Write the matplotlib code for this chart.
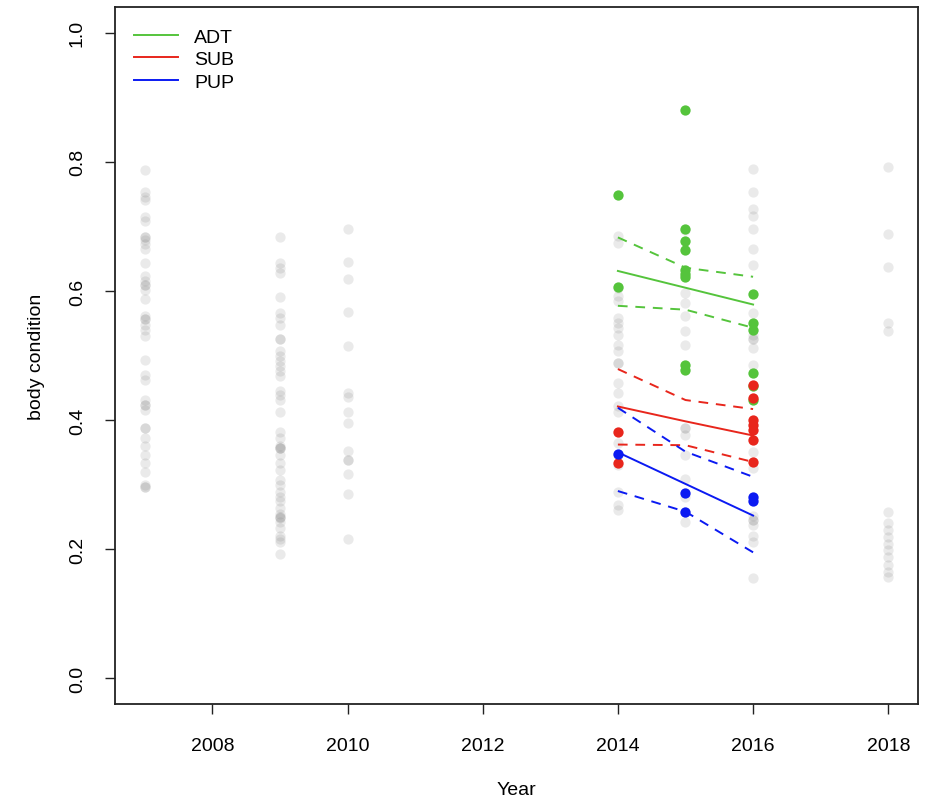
#!/usr/bin/env python3
"""Body condition by year with fitted trends per age class."""
import matplotlib

matplotlib.use("Agg")
import matplotlib.pyplot as plt
from matplotlib.lines import Line2D

plt.rcParams["font.family"] = ["Liberation Sans Narrow", "Liberation Sans", "DejaVu Sans"]

# background observations (all animals), one list per survey year
bg_2007 = [0.788, 0.753, 0.746, 0.741, 0.714, 0.708, 0.683, 0.683, 0.679, 0.672,
           0.665, 0.644, 0.623, 0.615, 0.610, 0.610, 0.602, 0.587, 0.561, 0.556,
           0.556, 0.548, 0.540, 0.530, 0.493, 0.470, 0.462, 0.431, 0.423, 0.423,
           0.416, 0.387, 0.387, 0.372, 0.359, 0.346, 0.333, 0.320, 0.299, 0.297,
           0.297]
bg_2009 = [0.683, 0.644, 0.636, 0.628, 0.591, 0.566, 0.558, 0.548, 0.525, 0.525,
           0.507, 0.499, 0.491, 0.483, 0.476, 0.468, 0.445, 0.439, 0.431, 0.413,
           0.382, 0.372, 0.359, 0.357, 0.356, 0.356, 0.346, 0.333, 0.323, 0.307,
           0.299, 0.289, 0.281, 0.274, 0.263, 0.255, 0.250, 0.250, 0.248, 0.242,
           0.232, 0.221, 0.216, 0.211, 0.193]
bg_2010 = [0.696, 0.645, 0.618, 0.567, 0.514, 0.442, 0.435, 0.413, 0.396, 0.352,
           0.338, 0.338, 0.316, 0.285, 0.215]
bg_2014 = [0.685, 0.675, 0.605, 0.592, 0.584, 0.558, 0.551, 0.543, 0.532, 0.517,
           0.507, 0.488, 0.488, 0.457, 0.442, 0.421, 0.413, 0.364, 0.346, 0.331,
           0.289, 0.268, 0.260]
bg_2015 = [0.694, 0.597, 0.582, 0.561, 0.538, 0.517, 0.387, 0.387, 0.377, 0.346,
           0.309, 0.281, 0.258, 0.242]
bg_2016 = [0.789, 0.753, 0.727, 0.716, 0.696, 0.665, 0.641, 0.566, 0.532, 0.525,
           0.525, 0.512, 0.486, 0.351, 0.325, 0.252, 0.245, 0.245, 0.237, 0.221,
           0.211, 0.155]
bg_2018 = [0.792, 0.688, 0.637, 0.551, 0.538, 0.258, 0.240, 0.229, 0.219, 0.208,
           0.198, 0.188, 0.175, 0.164, 0.157]

background = {
    2007: bg_2007,
    2009: bg_2009,
    2010: bg_2010,
    2014: bg_2014,
    2015: bg_2015,
    2016: bg_2016,
    2018: bg_2018,
}

# study animals by age class
adt_years = [2014, 2014, 2015, 2015, 2015, 2015, 2015, 2015, 2015, 2015, 2015,
             2016, 2016, 2016, 2016, 2016, 2016]
adt_values = [0.748, 0.606, 0.881, 0.696, 0.677, 0.664, 0.633, 0.626, 0.621,
              0.486, 0.478, 0.595, 0.551, 0.540, 0.473, 0.452, 0.431]
sub_years = [2014, 2014, 2016, 2016, 2016, 2016, 2016, 2016, 2016]
sub_values = [0.381, 0.333, 0.455, 0.434, 0.400, 0.392, 0.385, 0.369, 0.335]
pup_years = [2014, 2015, 2015, 2016, 2016]
pup_values = [0.347, 0.287, 0.257, 0.281, 0.274]

# model fit and confidence bounds
fit_years = [2014, 2015, 2016]
adt_fit = [0.631, 0.605, 0.579]
adt_lower = [0.577, 0.571, 0.543]
adt_upper = [0.683, 0.636, 0.622]
sub_fit = [0.421, 0.398, 0.376]
sub_lower = [0.362, 0.361, 0.335]
sub_upper = [0.479, 0.431, 0.417]
pup_fit = [0.350, 0.301, 0.252]
pup_lower = [0.290, 0.258, 0.195]
pup_upper = [0.419, 0.351, 0.312]

GREEN = "#55C43C"
RED = "#E8261C"
BLUE = "#0B1AF2"

groups = [
    ("ADT", GREEN, adt_years, adt_values, adt_fit, adt_lower, adt_upper),
    ("SUB", RED, sub_years, sub_values, sub_fit, sub_lower, sub_upper),
    ("PUP", BLUE, pup_years, pup_values, pup_fit, pup_lower, pup_upper),
]

fig = plt.figure(figsize=(9.28, 8.04), dpi=100)
ax = fig.add_axes([115 / 928, 1 - 705 / 804, (918 - 115) / 928, (705 - 8) / 804])

for year, vals in background.items():
    ax.scatter([year] * len(vals), vals, s=55, color=(0.5, 0.5, 0.5),
               alpha=0.16, linewidths=0, zorder=1)

for name, color, yrs, vals, fit, lo, hi in groups:
    ax.plot(fit_years, fit, color=color, lw=1.4, zorder=2)
    for bound in (lo, hi):
        ax.plot(fit_years, bound, color=color, lw=1.4, dashes=(5, 4), zorder=2)

for name, color, yrs, vals, fit, lo, hi in groups:
    ax.scatter(yrs, vals, s=55, color=color, linewidths=0, zorder=3)

ax.set_xlim(2006.56, 2018.44)
ax.set_ylim(-0.04, 1.04)
ax.set_xticks([2008, 2010, 2012, 2014, 2016, 2018])
ax.set_yticks([0.0, 0.2, 0.4, 0.6, 0.8, 1.0])
ax.set_yticklabels(["0.0", "0.2", "0.4", "0.6", "0.8", "1.0"], rotation=90, va="center")
ax.tick_params(length=7, width=1.0, labelsize=14, color="#222222")
ax.tick_params(axis="x", pad=17)
ax.tick_params(axis="y", pad=14)
for spine in ax.spines.values():
    spine.set_linewidth(1.3)
    spine.set_color("#222222")

ax.set_xlabel("Year", fontsize=14, labelpad=19)
ax.set_ylabel("body condition", fontsize=14, labelpad=17)

handles = [Line2D([0], [0], color=c, lw=1.4, label=n) for n, c, *_ in groups]
ax.legend(handles=handles, loc="upper left", frameon=False, fontsize=14,
          handlelength=2.3, handletextpad=0.8, labelspacing=0.25,
          borderaxespad=0.4, bbox_to_anchor=(0.004, 0.992))

fig.savefig("out.png", dpi=100)
